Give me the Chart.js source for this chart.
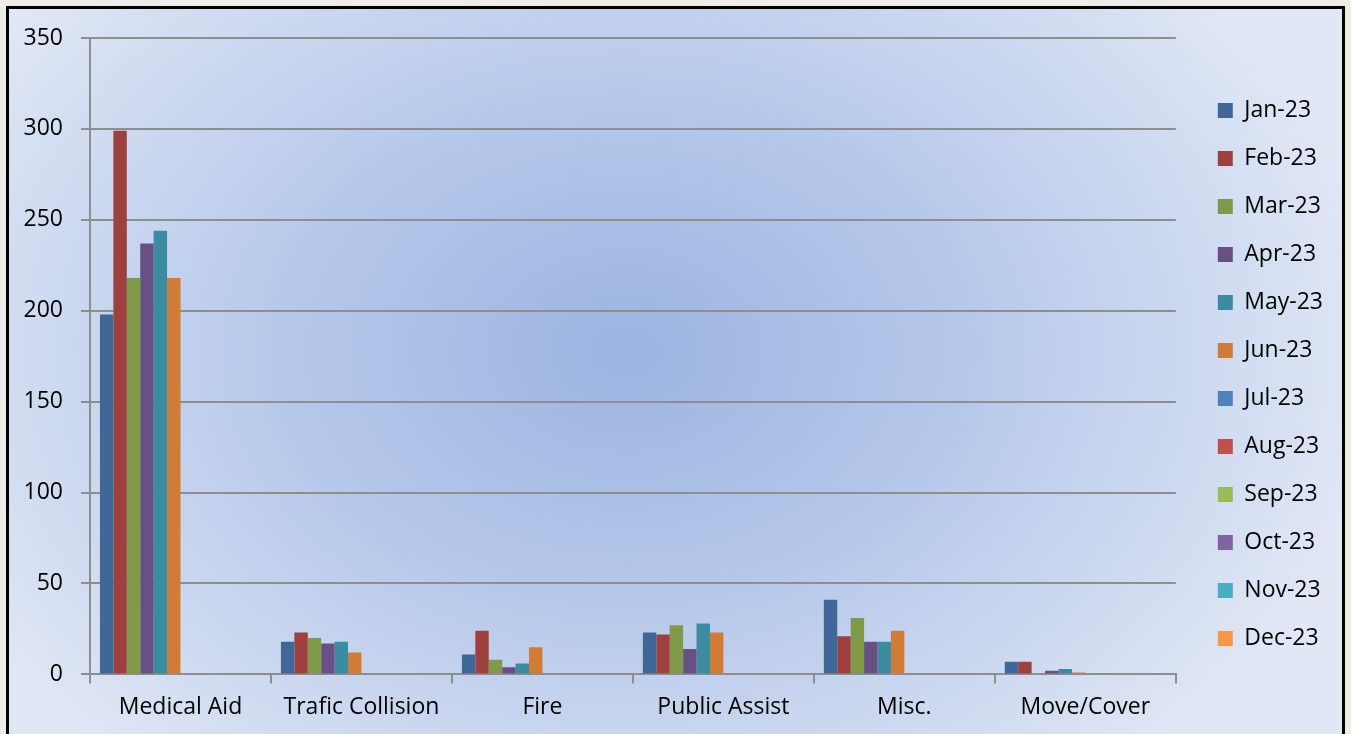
<!DOCTYPE html>
<html>
<head>
<meta charset="utf-8">
<script src="https://cdn.jsdelivr.net/npm/chart.js@4/dist/chart.umd.min.js"></script>
<style>
  html, body { margin: 0; padding: 0; background: #eeede8; }
  #wrap { width: 1351px; height: 734px; position: relative; }
</style>
</head>
<body>
<div id="wrap"><canvas id="calls"></canvas></div>
<script>
const categories = ['Medical Aid', 'Trafic Collision', 'Fire', 'Public Assist', 'Misc.', 'Move/Cover'];
const months = ['Jan-23', 'Feb-23', 'Mar-23', 'Apr-23', 'May-23', 'Jun-23',
                'Jul-23', 'Aug-23', 'Sep-23', 'Oct-23', 'Nov-23', 'Dec-23'];

// one array per month, in category order
const jan23 = [198, 18, 11, 23, 41, 7];
const feb23 = [299, 23, 24, 22, 21, 7];
const mar23 = [218, 20, 8, 27, 31, 0];
const apr23 = [237, 17, 4, 14, 18, 2];
const may23 = [244, 18, 6, 28, 18, 3];
const jun23 = [218, 12, 15, 23, 24, 1];
const jul23 = [null, null, null, null, null, null];
const aug23 = [null, null, null, null, null, null];
const sep23 = [null, null, null, null, null, null];
const oct23 = [null, null, null, null, null, null];
const nov23 = [null, null, null, null, null, null];
const dec23 = [null, null, null, null, null, null];

const yTicks = [0, 50, 100, 150, 200, 250, 300, 350];

const seriesValues = [jan23, feb23, mar23, apr23, may23, jun23, jul23, aug23, sep23, oct23, nov23, dec23];
const colors = ['#3f6899', '#9e413e', '#7f9a48', '#684f84', '#3b8ba1', '#d07c37',
                '#4f81bd', '#c0504d', '#9bbb59', '#8064a2', '#4bacc6', '#f79646'];

const gridColor = '#8e8e8e';

// background panel with the radial fill and black frame
const panelBackground = {
  id: 'panelBackground',
  beforeDraw(chart) {
    const ctx = chart.ctx;
    const w = chart.width, h = chart.height;
    const cx = 625, cy = 350, sx = 1.35;
    ctx.save();
    ctx.fillStyle = '#eeede8';
    ctx.fillRect(0, 0, w, h);
    ctx.translate(cx, cy);
    ctx.scale(sx, 1);
    const g = ctx.createRadialGradient(0, 0, 0, 0, 0, 560);
    g.addColorStop(0, '#9cb4e1');
    g.addColorStop(0.45, '#b6c8ea');
    g.addColorStop(1, '#e0e7f5');
    ctx.fillStyle = g;
    ctx.fillRect((8 - cx) / sx, 8 - cy, (w - 16) / sx, h);
    ctx.restore();
    ctx.save();
    ctx.strokeStyle = '#000';
    ctx.lineWidth = 3;
    ctx.strokeRect(7.5, 7.5, w - 15, h + 10);
    ctx.restore();
  }
};

// nudge the legend column into place next to the plot
const legendShift = {
  id: 'legendShift',
  afterLayout(chart) {
    const lg = chart.legend;
    lg.left += 17;
    lg.right += 17;
    lg.top -= 10;
    lg.bottom -= 10;
  }
};

Chart.defaults.font.family = "'Open Sans', sans-serif";
Chart.defaults.color = '#000';

new Chart(document.getElementById('calls'), {
  type: 'bar',
  data: {
    labels: categories,
    datasets: months.map((m, i) => ({
      label: m,
      data: seriesValues[i],
      backgroundColor: colors[i],
      borderWidth: 0,
      categoryPercentage: 0.89,
      barPercentage: 1.0
    }))
  },
  options: {
    responsive: true,
    maintainAspectRatio: false,
    animation: false,
    layout: { padding: { left: 0, right: 35, top: 38, bottom: 3 } },
    plugins: {
      tooltip: { enabled: false },
      legend: {
        position: 'right',
        align: 'center',
        labels: {
          boxWidth: 15,
          boxHeight: 15,
          padding: 25,
          font: { size: 23 },
          color: '#000'
        }
      }
    },
    scales: {
      x: {
        offset: true,
        grid: {
          offset: true,
          drawOnChartArea: false,
          drawTicks: true,
          tickLength: 9,
          color: gridColor,
          lineWidth: 2
        },
        border: { color: gridColor, width: 2 },
        ticks: { font: { size: 23 }, padding: 10, color: '#000' }
      },
      y: {
        min: 0,
        max: 350,
        afterBuildTicks: scale => { scale.ticks = yTicks.map(v => ({ value: v })); },
        afterFit: scale => { scale.width = 90; },
        grid: { color: gridColor, lineWidth: 2, tickLength: 9 },
        border: { color: gridColor, width: 2 },
        ticks: { font: { size: 23 }, padding: 18, color: '#000' }
      }
    }
  },
  plugins: [panelBackground, legendShift]
});
</script>
</body>
</html>
